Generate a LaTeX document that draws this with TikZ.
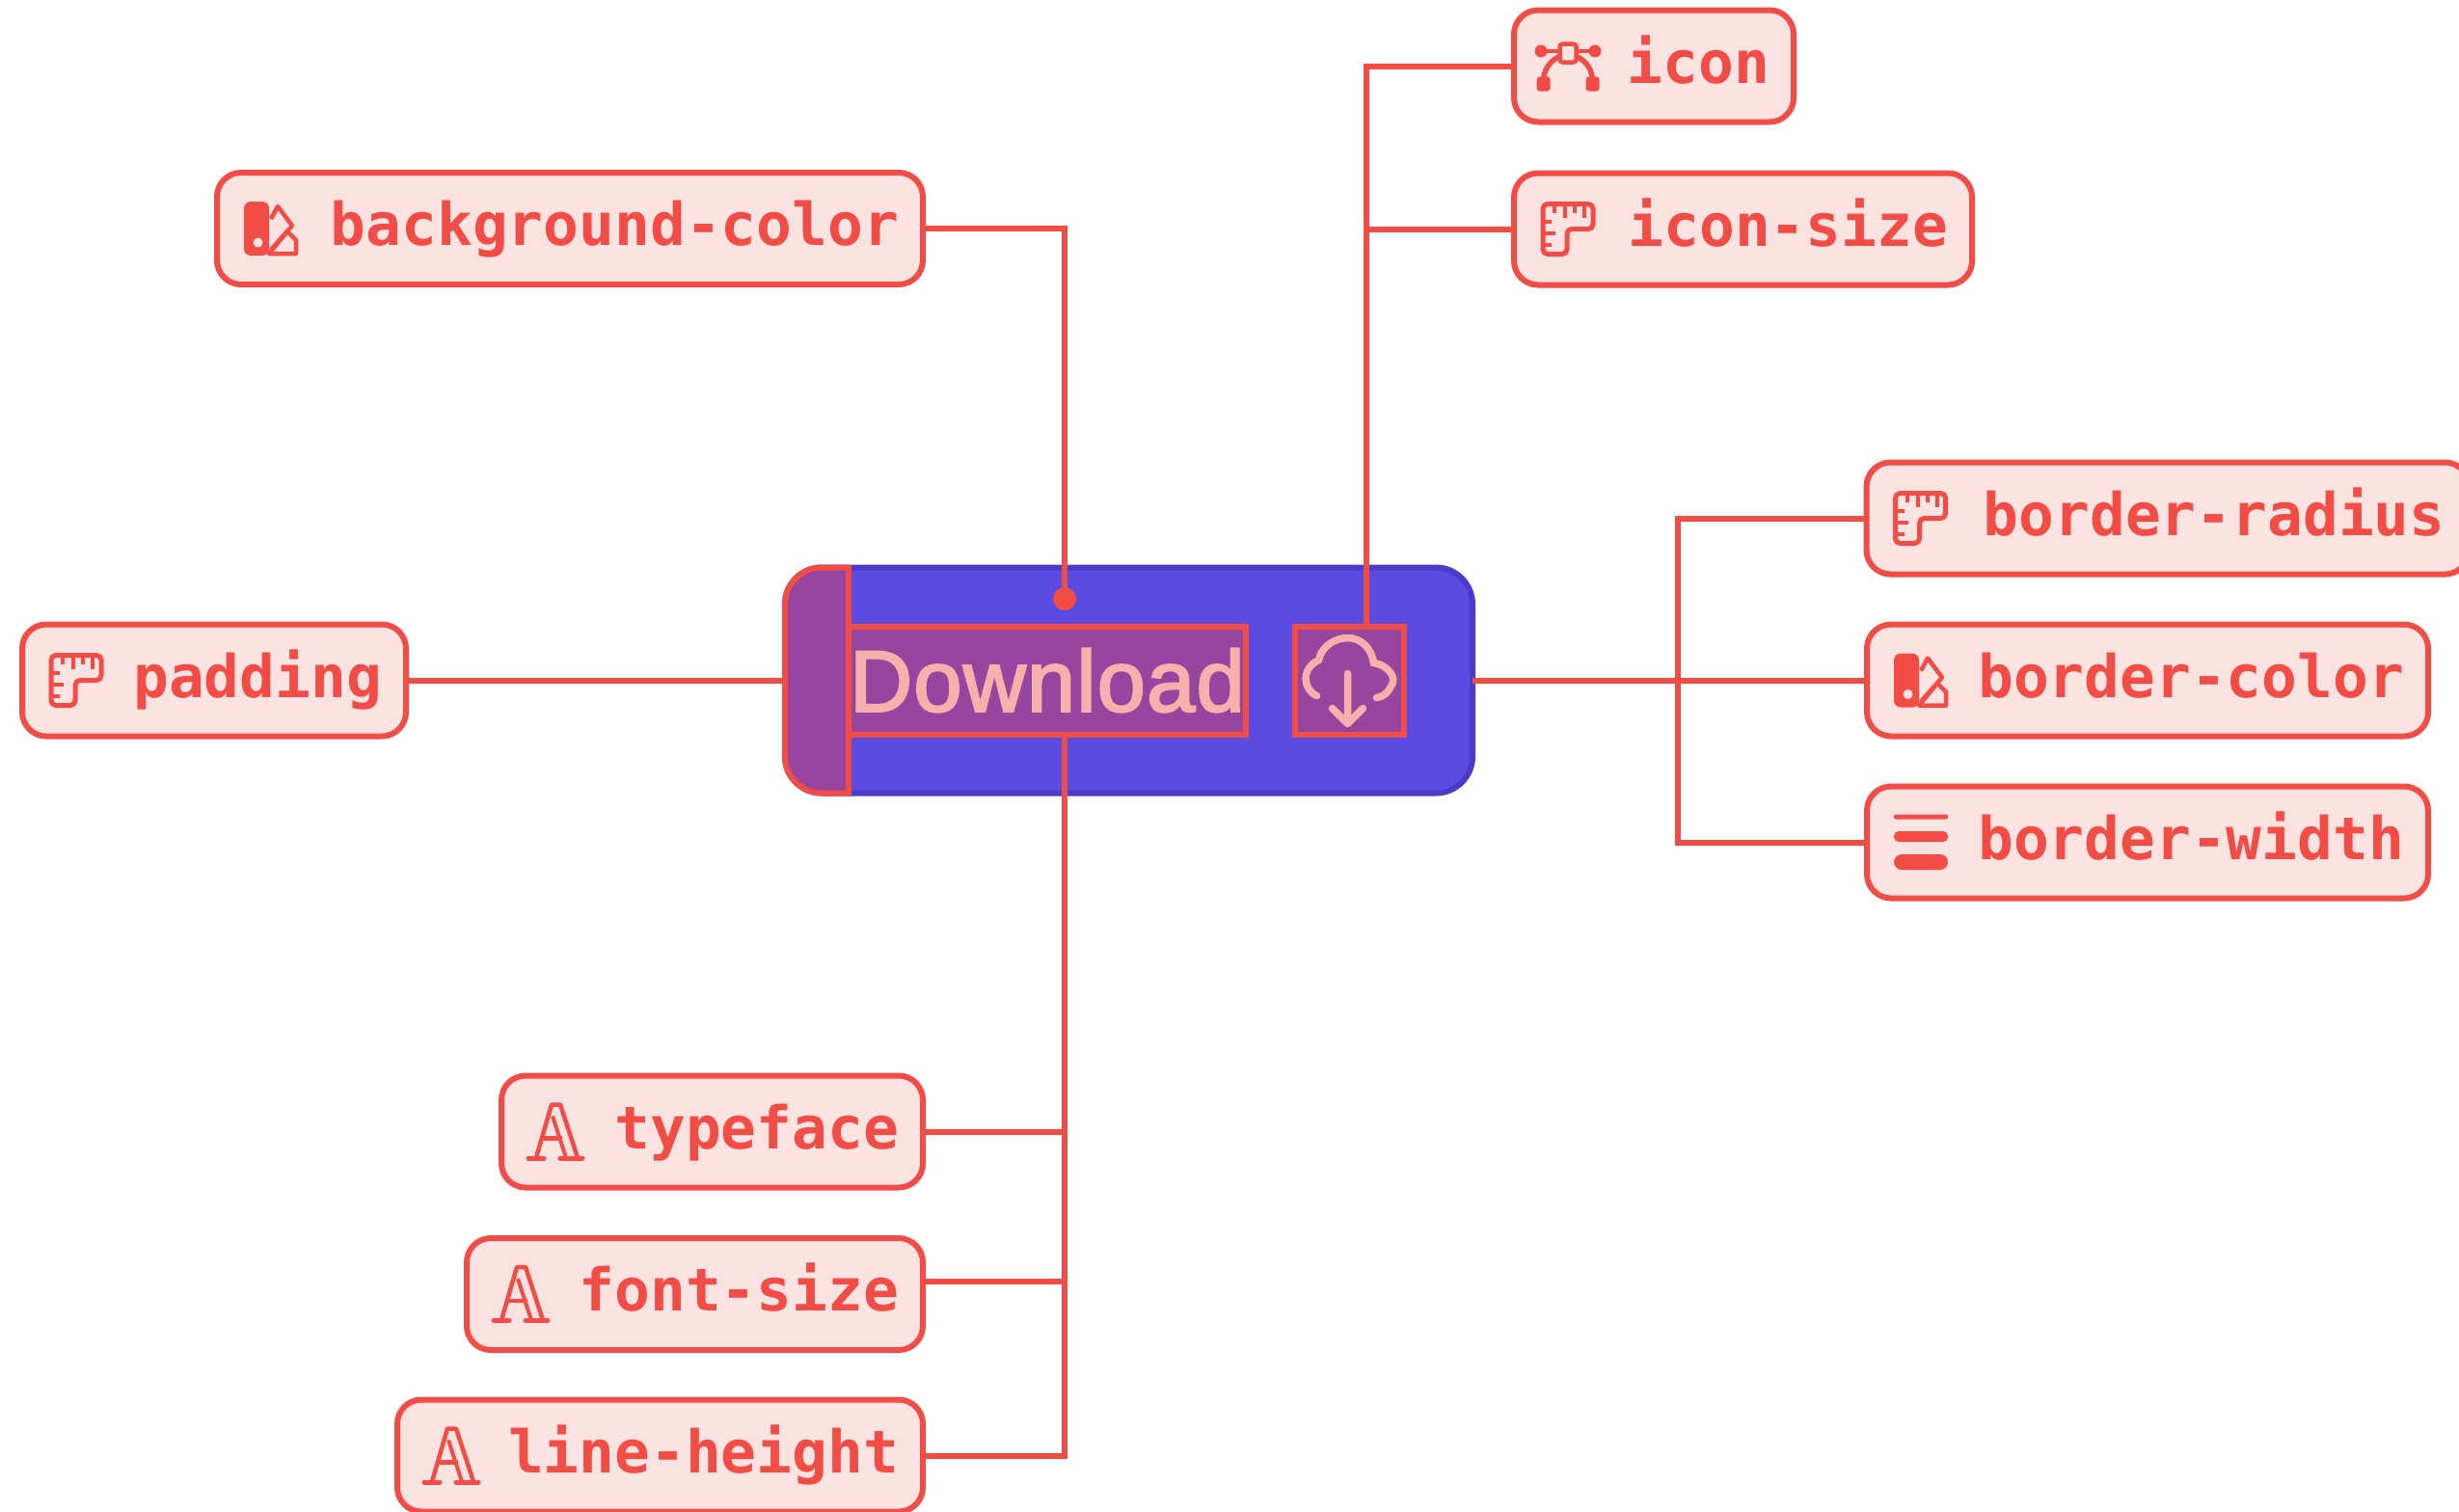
\documentclass[tikz,border=0pt]{standalone}
\usepackage{fontspec}
\usepackage{xcolor}
\usepackage{tikz}
\newfontfamily\tagfont{DejaVu Sans Mono}
\newfontfamily\btnfont{Liberation Sans}[FakeBold=2.5,LetterSpace=1.5]
\definecolor{tagred}{HTML}{F14C45}
\definecolor{tagpink}{HTML}{FBE3E1}
\definecolor{btnblue}{HTML}{5B4BE0}
\definecolor{btnedge}{HTML}{4A3BC8}
\definecolor{btnmark}{HTML}{96469E}
\definecolor{btntext}{HTML}{F7B0AC}
\tikzstyle{tag} = [rectangle, rounded corners=0.25cm,
minimum height=1.16cm,
inner xsep=0.25cm,
inner ysep=0pt,
outer sep=0pt,
text height=0.55cm,
text depth=0.2cm,
align=right,
line width=0.06cm,
draw=tagred,
fill=tagpink,
text=tagred,
font=\tagfont\bfseries\fontsize{17.4}{20}\selectfont]
\tikzstyle{button} = [rectangle, rounded corners=0.38cm,
minimum width=7.13cm,
minimum height=2.34cm,
outer sep=0pt,
line width=0.06cm,
draw=btnedge,
fill=btnblue]
\tikzstyle{hilite} = [rectangle,
minimum height=1.12cm,
inner sep=0pt,
outer sep=0pt,
line width=0.06cm,
draw=tagred,
fill=btnmark,
text=btntext,
font=\btnfont\fontsize{25.6}{30}\selectfont]
\tikzstyle{wire} = [line width=0.06cm, draw=tagred]
\tikzset{
ruler/.pic={
\draw[tagred, line width=0.05cm, rounded corners=0.05cm] (-0.26,0.26) -- (0.26,0.26) -- (0.26,0) -- (-0.01,0) -- (-0.01,-0.26) -- (-0.26,-0.26) -- cycle;
\draw[tagred, line width=0.04cm] (-0.14,0.26) -- (-0.14,0.17) (-0.03,0.26) -- (-0.03,0.12) (0.07,0.26) -- (0.07,0.17) (0.17,0.26) -- (0.17,0.12);
\draw[tagred, line width=0.04cm] (-0.26,0.08) -- (-0.17,0.08) (-0.26,-0.04) -- (-0.13,-0.04) (-0.26,-0.16) -- (-0.17,-0.16);
},
swatch/.pic={
\fill[tagred, rounded corners=0.07cm] (-0.28,0.28) -- (-0.02,0.28) -- (-0.02,-0.28) -- (-0.28,-0.28) -- cycle;
\fill[tagpink] (-0.135,-0.145) circle (0.05);
\draw[tagred, line width=0.045cm, line join=round] (0,0.1) -- (0.07,0.23) -- (0.22,0.03) -- (0,-0.22);
\draw[tagred, line width=0.045cm, line join=round] (-0.02,-0.26) -- (0.17,-0.03) -- (0.26,-0.12) -- (0.26,-0.26) -- cycle;
},
curve/.pic={
\draw[tagred, line width=0.045cm] (-0.28,0.155) -- (0.28,0.155);
\draw[tagred, line width=0.055cm] (-0.255,-0.15) .. controls (-0.25,0) and (-0.14,0.11) .. (0,0.12) .. controls (0.14,0.11) and (0.25,0) .. (0.255,-0.15);
\fill[tagred] (-0.28,0.155) circle (0.065) (0.28,0.155) circle (0.065);
\draw[tagred, fill=tagpink, line width=0.045cm, rounded corners=0.03cm] (-0.085,0.04) rectangle (0.085,0.23);
\fill[tagred, rounded corners=0.03cm] (-0.325,-0.26) rectangle (-0.185,-0.11) (0.185,-0.26) rectangle (0.325,-0.11);
},
stack/.pic={
\fill[tagred, rounded corners=0.02cm] (-0.28,0.24) rectangle (0.28,0.29);
\fill[tagred, rounded corners=0.05cm] (-0.28,0.005) rectangle (0.28,0.115);
\fill[tagred, rounded corners=0.08cm] (-0.28,-0.285) rectangle (0.28,-0.125);
},
letter/.pic={
\draw[tagred, line width=0.045cm, line join=round] (-0.2,-0.27) -- (-0.04,0.28) -- (0.05,0.28) -- (0.23,-0.27);
\draw[tagred, line width=0.04cm] (-0.03,0.16) -- (0.11,-0.27);
\draw[tagred, line width=0.045cm] (-0.13,-0.07) -- (0.07,-0.07);
\draw[tagred, line width=0.05cm, line cap=round] (-0.28,-0.275) -- (-0.12,-0.275) (0.05,-0.275) -- (0.28,-0.275);
},
cloud/.pic={
\draw[btntext, line width=0.075cm, line cap=round] (-0.32,-0.16) .. controls (-0.46,-0.10) and (-0.49,0.12) .. (-0.30,0.21) .. controls (-0.27,0.36) and (-0.12,0.44) .. (0,0.44) .. controls (0.15,0.44) and (0.25,0.32) .. (0.27,0.18) .. controls (0.42,0.16) and (0.52,0.02) .. (0.45,-0.06) .. controls (0.42,-0.13) and (0.37,-0.17) .. (0.30,-0.18);
\draw[btntext, line width=0.075cm, line cap=round, line join=round] (0,0.07) -- (0,-0.45) (-0.16,-0.29) -- (0,-0.45) -- (0.16,-0.29);
}
}
\begin{document}
\begin{tikzpicture}
\useasboundingbox (0,0) rectangle (25.5,-15.67);
% button
\node (btn) [button] at (11.705,-7.055) {};
\node (textbox) [hilite, minimum width=4.12cm] at (10.86,-7.055) {Download};
\node (cloudbox) [hilite, minimum width=1.13cm] at (13.995,-7.055) {};
\pic at ([xshift=-0.02cm]cloudbox.center) {cloud};
\draw [line width=0.06cm, draw=tagred, fill=btnmark] ([xshift=0.66cm]btn.north west) -- ++(-0.28,0) arc[start angle=90, end angle=180, radius=0.38] -- ++(0,-1.58) arc[start angle=180, end angle=270, radius=0.38] -- ++(0.28,0) -- cycle;
\node (dot) [circle, fill=tagred, inner sep=0pt, minimum size=0.24cm] at (11.04,-6.21) {};
\coordinate (iconup) at (14.17,-6.49);
\coordinate (rightjoin) at (17.4,-7.055);

% labels
\node (bgcolor) [tag, text width=6.82cm] at (5.91,-2.37) {background-color};
\node (padding) [tag, text width=3.48cm] at (2.22,-7.055) {padding};
\node (iconname) [tag, text width=2.4cm] at (17.15,-0.685) {icon};
\node (iconsize) [tag, text width=4.25cm] at (18.075,-2.375) {icon-size};
\node (radius) [tag, text width=5.75cm] at (22.48,-5.375) {border-radius};
\node (bordercolor) [tag, text width=5.32cm] at (22.27,-7.055) {border-color};
\node (borderwidth) [tag, text width=5.32cm] at (22.27,-8.735) {border-width};
\node (typeface) [tag, text width=3.87cm] at (7.385,-11.735) {typeface};
\node (fontsize) [tag, text width=4.23cm] at (7.205,-13.42) {font-size};
\node (lineheight) [tag, text width=4.95cm] at (6.845,-15.095) {line-height};

\pic at ([xshift=0.56cm]bgcolor.west) {swatch};
\pic at ([xshift=0.56cm]padding.west) {ruler};
\pic at ([xshift=0.56cm]iconname.west) {curve};
\pic at ([xshift=0.56cm]iconsize.west) {ruler};
\pic at ([xshift=0.56cm]radius.west) {ruler};
\pic at ([xshift=0.56cm]bordercolor.west) {swatch};
\pic at ([xshift=0.56cm]borderwidth.west) {stack};
\pic at ([xshift=0.56cm]typeface.west) {letter};
\pic at ([xshift=0.56cm]fontsize.west) {letter};
\pic at ([xshift=0.56cm]lineheight.west) {letter};

% connectors
\draw [wire] (bgcolor.east) -| (dot.center);
\draw [wire] (padding.east) -- (btn.west);
\draw [wire] (iconup) |- (iconname.west);
\draw [wire] (iconsize.west) -- (iconsize.west -| iconup);
\draw [wire] (btn.east) -- (bordercolor.west);
\draw [wire] (radius.west) -| (rightjoin) |- (borderwidth.west);
\draw [wire] (textbox.south -| dot) |- (lineheight.east);
\draw [wire] (typeface.east) -- (typeface.east -| dot);
\draw [wire] ([yshift=0.13cm]fontsize.east) -- ([yshift=0.13cm]fontsize.east -| dot);
\end{tikzpicture}
\end{document}
